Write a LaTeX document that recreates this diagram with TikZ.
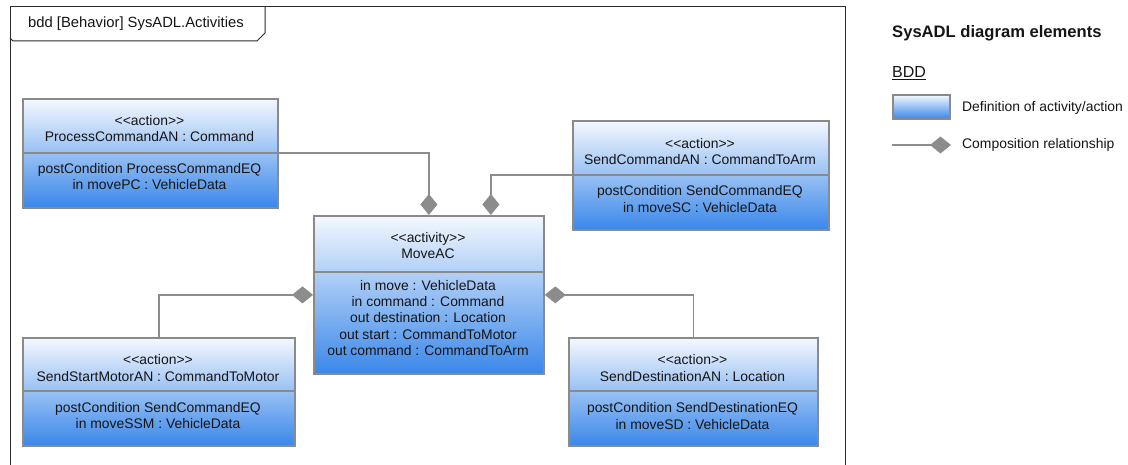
\documentclass[tikz,border=0pt]{standalone}
\usepackage{fontspec}
\setmainfont{Liberation Sans}
\usetikzlibrary{arrows.meta}
\definecolor{linegray}{HTML}{8C8C8C}
\definecolor{boxgray}{HTML}{8A8A8A}
\definecolor{topblue}{HTML}{F4F8FE}
\definecolor{botblue}{HTML}{3A87E9}
\definecolor{framec}{HTML}{2A2A2A}
\definecolor{textc}{HTML}{151515}
\newcommand\sll{<\kern0pt<}
\newcommand\sgg{>\kern0pt>}
\tikzset{
 blk/.style={draw=boxgray, line width=1.8pt, top color=topblue, bottom color=botblue, inner sep=0pt, anchor=north west},
 divl/.style={draw=boxgray, line width=1.8pt},
 txt/.style={font=\fontsize{13.9}{16.2}\selectfont, align=center, inner sep=0pt, text=textc},
 ltxt/.style={font=\fontsize{13.9}{16.2}\selectfont, anchor=west, inner sep=0pt, text=textc},
 comp/.style={draw=linegray, line width=1.8pt, -{Diamond[length=21pt,width=17pt,fill=linegray]}},
}
\begin{document}
\begin{tikzpicture}[x=1pt,y=-1pt]
\useasboundingbox (0,0) rectangle (1128,465);
% frame
\draw[framec, line width=1pt] (10,465) -- (10,7) -- (845,7) -- (845,465);
\draw[framec, line width=1pt] (10,38) -- (13,41) -- (257,41) -- (265,33) -- (265,7);
\node[ltxt, font=\fontsize{14.8}{17}\selectfont] (title) at (28,24) {bdd [Behavior] SysADL.Activities};

% boxes
\node[blk, minimum width=255pt, minimum height=109pt] (pc) at (22,98) {};
\draw[divl] (pc.west |- 0,153) -- (pc.east |- 0,153);
\node[txt] (pct) at (149.5,128.5) {\sll action\sgg\\ProcessCommandAN : Command};
\node[txt] (pcb) at (149.5,176.5) {postCondition ProcessCommandEQ\\in movePC : VehicleData};

\node[blk, minimum width=256pt, minimum height=109pt] (sc) at (572,120) {};
\draw[divl] (sc.west |- 0,175) -- (sc.east |- 0,175);
\node[txt] (sct) at (700,151.5) {\sll action\sgg\\SendCommandAN : CommandToArm};
\node[txt] (scb) at (700,199) {postCondition SendCommandEQ\\in moveSC : VehicleData};

\node[blk, minimum width=230pt, minimum height=158pt] (mv) at (313,215) {};
\draw[divl] (mv.west |- 0,272) -- (mv.east |- 0,272);
\node[txt] (mvt) at (428,245.5) {\sll activity\sgg\\MoveAC};
\node[txt] (mvb) at (428,318) {in move : VehicleData\\in command : Command\\out destination : Location\\out start : CommandToMotor\\out command : CommandToArm};

\node[blk, minimum width=272pt, minimum height=108pt] (ssm) at (22,337) {};
\draw[divl] (ssm.west |- 0,391) -- (ssm.east |- 0,391);
\node[txt] (ssmt) at (158,368) {\sll action\sgg\\SendStartMotorAN : CommandToMotor};
\node[txt] (ssmb) at (158,415.5) {postCondition SendCommandEQ\\in moveSSM : VehicleData};

\node[blk, minimum width=249pt, minimum height=108pt] (sd) at (568,337) {};
\draw[divl] (sd.west |- 0,391) -- (sd.east |- 0,391);
\node[txt] (sdt) at (692.5,368) {\sll action\sgg\\SendDestinationAN : Location};
\node[txt] (sdb) at (692.5,416) {postCondition SendDestinationEQ\\in moveSD : VehicleData};

% composition connectors
\draw[comp] (pc.east) -| (mv.north);
\draw[comp] (sc.west) -| ([xshift=62pt]mv.north);
\draw[comp] (ssm.north) |- (mv.west);
\draw[comp] (sd.north) |- (mv.east);

% legend
\node[anchor=west, inner sep=0pt, text=textc, font=\fontsize{16.6}{19}\selectfont\bfseries] (lt) at (892,33) {SysADL diagram elements};
\node[anchor=west, inner sep=0pt, text=textc, font=\fontsize{16}{19}\selectfont] (lb) at (892,73) {\underline{BDD}};
\node[blk, minimum width=57pt, minimum height=24pt] (lbox) at (892,94) {};
\node[ltxt] (ld) at (962,108) {Definition of activity/action};
\coordinate (ls) at (892,145);
\coordinate (le) at (951,145);
\draw[comp] (ls) -- (le);
\node[ltxt] (lc) at (962,145) {Composition relationship};
\end{tikzpicture}
\end{document}
